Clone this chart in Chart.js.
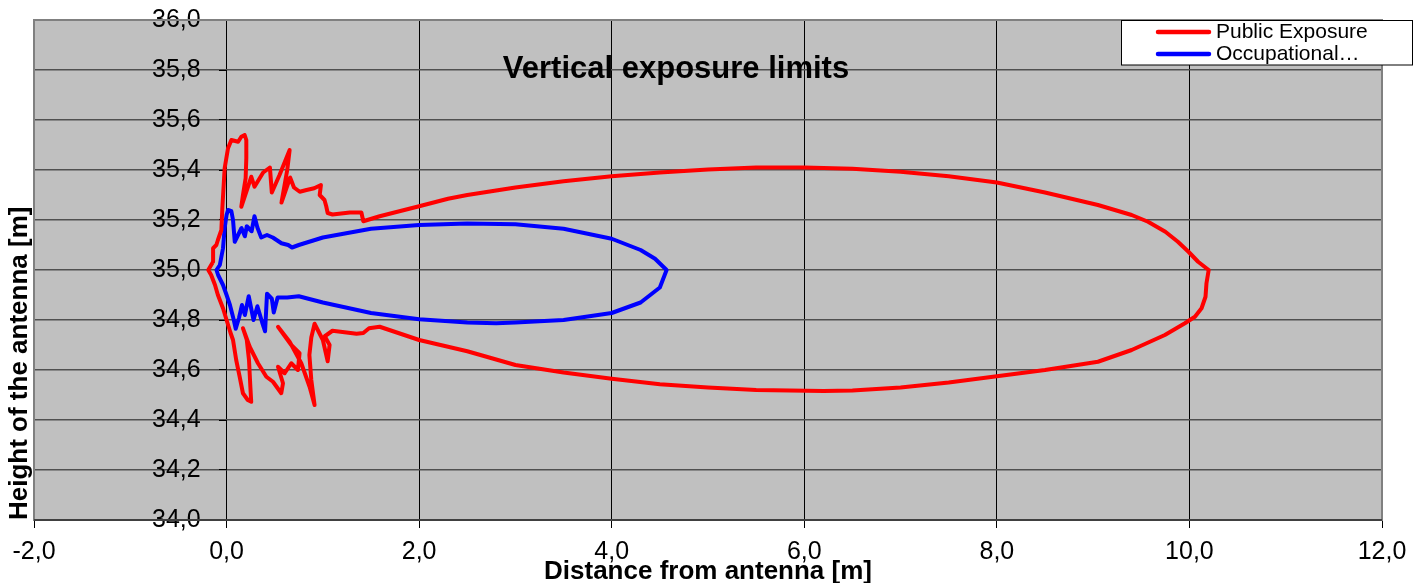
<!DOCTYPE html>
<html lang="en">
<head>
<meta charset="UTF-8">
<title>Vertical exposure limits</title>
<script src="https://cdn.jsdelivr.net/npm/chart.js"></script>
<style>
  html, body { margin: 0; padding: 0; background: #fff; }
  #wrap { width: 1424px; height: 583px; position: relative; }
</style>
</head>
<body>
<div id="wrap"><canvas id="chart"></canvas></div>
<script>
// series names and colours
const seriesLabels = ['Public Exposure', 'Occupational…'];
const seriesColors = ['#ff0000', '#0000ff'];

// axis ticks
const xTickValues = [-2, 0, 2, 4, 6, 8, 10, 12];
const yTickValues = [34.0, 34.2, 34.4, 34.6, 34.8, 35.0, 35.2, 35.4, 35.6, 35.8, 36.0];

// public exposure contour (distance, height)
const publicX = [10.20, 10.09, 9.99, 9.88, 9.75, 9.57, 9.40, 9.05, 8.5, 8.0, 7.5, 7.0, 6.5, 6.0, 5.5, 5.0, 4.5, 4.0, 3.5, 3.0, 2.5, 2.3, 2.0, 1.59, 1.42,
  1.40, 1.28, 1.10, 1.05, 1.035, 1.017, 0.967, 0.98, 0.91, 0.83, 0.76, 0.70, 0.66, 0.57, 0.63, 0.655, 0.55, 0.47, 0.45, 0.38, 0.29, 0.257, 0.153, 0.17, 0.198, 0.205, 0.205, 0.188, 0.153, 0.12, 0.05, 0.015, -0.02, -0.044, -0.054, -0.09, -0.106, -0.14, -0.14, -0.19, -0.16, -0.12, -0.09, -0.037, 0.0,
  0.04, 0.067, 0.10, 0.136, 0.17, 0.22, 0.256, 0.247, 0.233, 0.21, 0.17, 0.24, 0.326, 0.413, 0.482, 0.568, 0.586, 0.534, 0.603, 0.672, 0.741, 0.758, 0.672, 0.534, 0.655, 0.776, 0.862, 0.914, 0.88, 0.86, 0.88, 0.914, 1.0, 1.05, 1.07, 1.02, 1.10, 1.35, 1.42, 1.48, 1.59,
  2.0, 2.5, 3.0, 3.5, 4.0, 4.5, 5.0, 5.5, 6.2, 6.5, 7.0, 7.5, 8.0, 8.5, 9.05, 9.40, 9.745, 9.953, 10.057, 10.126, 10.167, 10.177, 10.20];
const publicY = [35.00, 35.033, 35.073, 35.113, 35.153, 35.193, 35.22, 35.26, 35.31, 35.35, 35.375, 35.393, 35.405, 35.41, 35.41, 35.402, 35.39, 35.375, 35.355, 35.33, 35.30, 35.285, 35.255, 35.215, 35.195,
  35.23, 35.23, 35.222, 35.228, 35.255, 35.28, 35.30, 35.34, 35.327, 35.32, 35.313, 35.33, 35.37, 35.27, 35.40, 35.48, 35.38, 35.31, 35.41, 35.39, 35.333, 35.373, 35.253, 35.30, 35.367, 35.447, 35.52, 35.54, 35.533, 35.513, 35.52, 35.487, 35.407, 35.247, 35.16, 35.12, 35.10, 35.087, 35.033, 35.0, 34.98, 34.94, 34.90, 34.847, 34.80,
  34.75, 34.72, 34.64, 34.573, 34.507, 34.48, 34.473, 34.533, 34.64, 34.72, 34.767, 34.693, 34.627, 34.573, 34.553, 34.507, 34.547, 34.613, 34.587, 34.627, 34.60, 34.667, 34.70, 34.773, 34.713, 34.627, 34.533, 34.46, 34.56, 34.66, 34.73, 34.785, 34.72, 34.635, 34.70, 34.735, 34.757, 34.745, 34.748, 34.767, 34.773,
  34.72, 34.675, 34.62, 34.59, 34.565, 34.543, 34.53, 34.52, 34.516, 34.518, 34.53, 34.55, 34.575, 34.60, 34.633, 34.68, 34.74, 34.787, 34.813, 34.847, 34.893, 34.947, 35.0];

// occupational contour
const occX = [4.57, 4.45, 4.3, 4.0, 3.5, 3.0, 2.5, 2.0, 1.5, 1.0, 0.75, 0.68, 0.64, 0.57, 0.48, 0.42, 0.36, 0.32, 0.29, 0.26, 0.21, 0.19, 0.155, 0.085, 0.067, 0.05, 0.015, 0.0, -0.02, -0.037, -0.07, -0.105,
  -0.088, -0.037, 0.0, 0.035, 0.075, 0.095, 0.13, 0.16, 0.19, 0.23, 0.28, 0.32, 0.37, 0.40, 0.42, 0.47, 0.49, 0.53, 0.63, 0.75, 1.0, 1.5, 2.0, 2.5, 2.8, 3.0, 3.5, 4.0, 4.3, 4.5, 4.57];
const occY = [35.0, 35.045, 35.08, 35.125, 35.165, 35.183, 35.186, 35.18, 35.165, 35.13, 35.10, 35.09, 35.10, 35.107, 35.13, 35.14, 35.13, 35.17, 35.215, 35.155, 35.175, 35.135, 35.168, 35.113, 35.20, 35.235, 35.24, 35.22, 35.167, 35.087, 35.02, 35.0,
  34.98, 34.94, 34.90, 34.86, 34.80, 34.765, 34.81, 34.86, 34.82, 34.895, 34.80, 34.855, 34.79, 34.755, 34.905, 34.885, 34.83, 34.89, 34.89, 34.895, 34.87, 34.828, 34.803, 34.79, 34.787, 34.79, 34.80, 34.828, 34.87, 34.93, 35.0];

const toPoints = (xs, ys) => xs.map((x, i) => ({ x: x, y: ys[i] }));
const fmt = v => Number(v).toFixed(1).replace('.', ',');
const FONT = "'Liberation Sans', Arial, sans-serif";

// keep the plot box fixed: no label overhang padding
const noOverhang = s => { s.paddingTop = 0; s.paddingBottom = 0; s.paddingLeft = 0; s.paddingRight = 0; };

// grey plot area with its frame
const plotBackground = {
  id: 'plotBackground',
  beforeDraw(chart) {
    const { ctx, chartArea: a } = chart;
    ctx.save();
    ctx.fillStyle = '#ffffff';
    ctx.fillRect(0, 0, chart.width, chart.height);
    ctx.fillStyle = '#c0c0c0';
    ctx.fillRect(a.left, a.top, a.right - a.left, a.bottom - a.top);
    ctx.restore();
  },
  beforeDatasetsDraw(chart) {
    const { ctx, chartArea: a } = chart;
    ctx.save();
    ctx.strokeStyle = '#808080';
    ctx.lineWidth = 2;
    ctx.strokeRect(a.left, a.top, a.right - a.left, a.bottom - a.top);
    ctx.strokeStyle = '#404040';
    ctx.beginPath();
    ctx.moveTo(a.left, a.bottom);
    ctx.lineTo(a.right, a.bottom);
    ctx.stroke();
    ctx.restore();
  }
};

// title inside the plot and the boxed legend at the top right
const overlay = {
  id: 'overlay',
  afterDraw(chart) {
    const { ctx } = chart;
    ctx.save();
    ctx.fillStyle = '#000';
    ctx.font = 'bold 31px ' + FONT;
    ctx.textAlign = 'center';
    ctx.textBaseline = 'alphabetic';
    ctx.fillText('Vertical exposure limits', 676, 78);

    ctx.fillStyle = '#fff';
    ctx.fillRect(1121.5, 20.5, 291, 44.5);
    ctx.strokeStyle = '#000';
    ctx.lineWidth = 1;
    ctx.strokeRect(1121.5, 20.5, 291, 44.5);
    ctx.font = '21px ' + FONT;
    ctx.textAlign = 'left';
    ctx.textBaseline = 'middle';
    chart.data.datasets.forEach((ds, i) => {
      const y = 32 + i * 22;
      ctx.strokeStyle = ds.borderColor;
      ctx.lineWidth = 4.5;
      ctx.lineCap = 'round';
      ctx.beginPath();
      ctx.moveTo(1158, y);
      ctx.lineTo(1209, y);
      ctx.stroke();
      ctx.fillStyle = '#000';
      ctx.fillText(ds.label, 1216, y + 0.5);
    });
    ctx.restore();
  }
};

const ctx = document.getElementById('chart').getContext('2d');
const chart = new Chart(ctx, {
  type: 'scatter',
  data: {
    datasets: [
      { label: seriesLabels[0], data: toPoints(publicX, publicY), borderColor: seriesColors[0], backgroundColor: seriesColors[0] },
      { label: seriesLabels[1], data: toPoints(occX, occY), borderColor: seriesColors[1], backgroundColor: seriesColors[1] }
    ].map(d => Object.assign(d, {
      showLine: true, pointRadius: 0, borderWidth: 4, tension: 0,
      borderJoinStyle: 'round', borderCapStyle: 'round', xAxisID: 'x', yAxisID: 'y'
    }))
  },
  options: {
    responsive: true,
    maintainAspectRatio: false,
    animation: false,
    layout: { padding: { top: 20, right: 42, left: 0, bottom: 0 } },
    plugins: { legend: { display: false }, title: { display: false }, tooltip: { enabled: false } },
    scales: {
      x: {
        type: 'linear', position: 'bottom', min: -2, max: 12,
        afterBuildTicks: s => { s.ticks = xTickValues.map(v => ({ value: v })); },
        afterFit: s => { s.height = 63; noOverhang(s); },
        ticks: { callback: fmt, color: '#000', font: { family: FONT, size: 25 }, padding: 9, maxRotation: 0 },
        grid: { color: '#000', lineWidth: 1, drawTicks: true, tickLength: 8, tickColor: '#000' },
        border: { display: false },
        title: { display: true, text: 'Distance from antenna [m]', color: '#000',
          font: { family: FONT, size: 26, weight: 'bold' }, padding: { top: 0, bottom: -4 } }
      },
      y: {
        type: 'linear', position: 'left', min: 34, max: 36,
        afterBuildTicks: s => { s.ticks = yTickValues.map(v => ({ value: v })); },
        afterFit: s => { s.width = 34; noOverhang(s); },
        ticks: { callback: fmt, color: '#000', font: { family: FONT, size: 25 }, mirror: true, padding: 118 },
        grid: { color: '#505050', lineWidth: 1.5, drawTicks: false },
        border: { display: false },
        title: { display: true, text: 'Height of the antenna [m]', align: 'start', color: '#000',
          font: { family: FONT, size: 26, weight: 'bold' }, padding: { top: 4, bottom: 0 } }
      },
      yMarks: {
        type: 'linear', position: { x: 0 }, min: 34, max: 36,
        afterBuildTicks: s => { s.ticks = yTickValues.map(v => ({ value: v })); },
        afterFit: noOverhang,
        ticks: { display: false },
        grid: { drawOnChartArea: false, drawTicks: true, tickLength: 8, tickColor: '#000' },
        border: { display: false }
      }
    }
  },
  plugins: [plotBackground, overlay]
});
</script>
</body>
</html>
